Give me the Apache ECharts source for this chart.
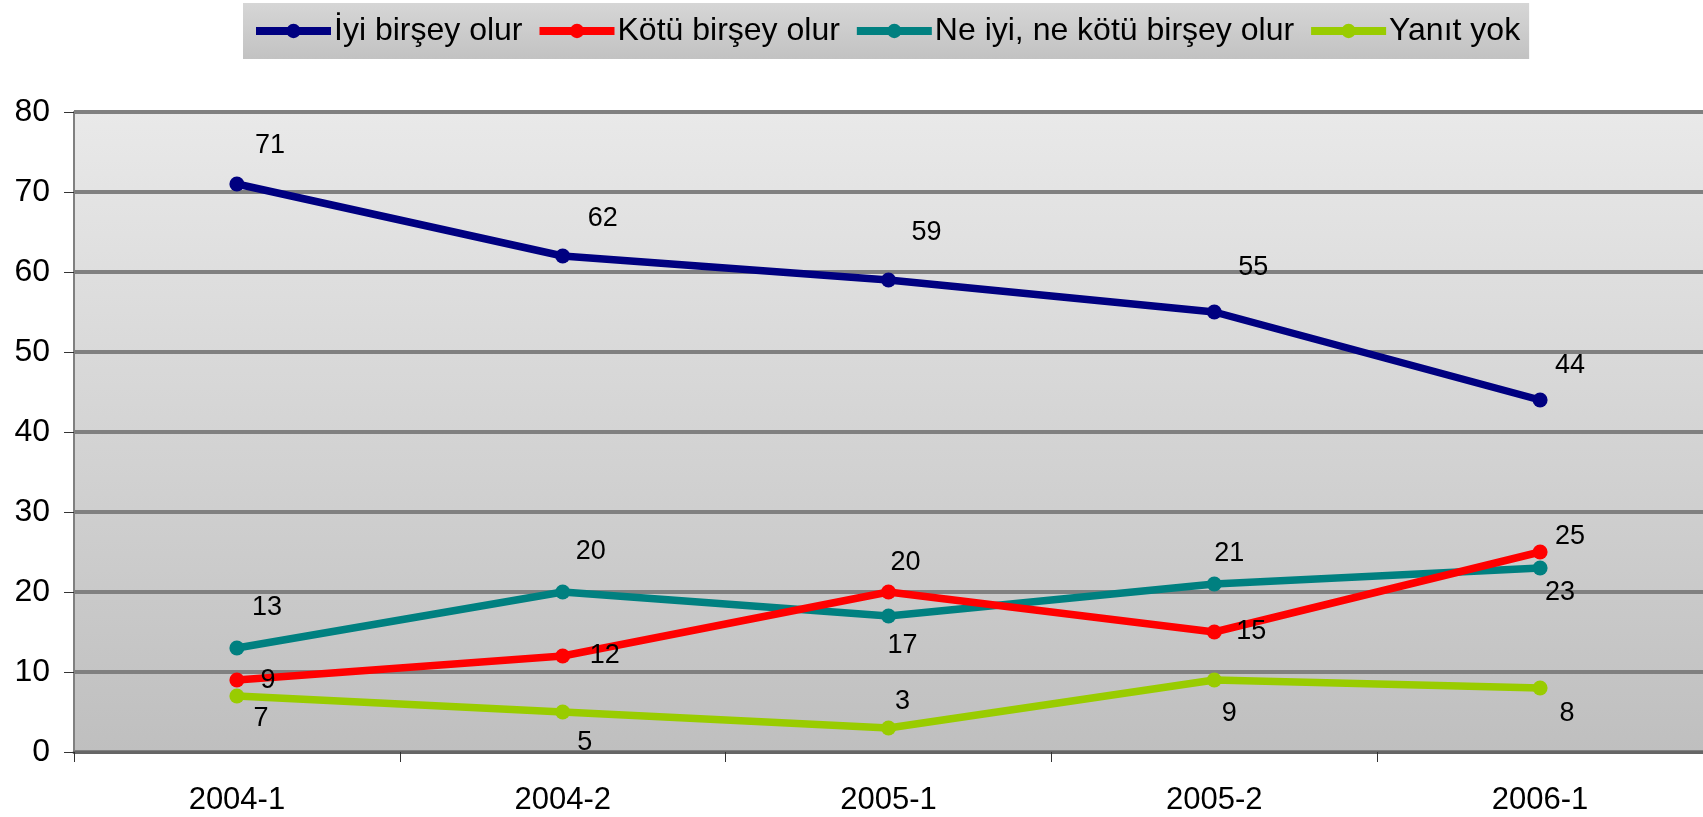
<!DOCTYPE html>
<html>
<head>
<meta charset="utf-8">
<script src="https://cdn.jsdelivr.net/npm/echarts@6/dist/echarts.min.js"></script>
<style>
  html, body { margin: 0; padding: 0; background: #fff; }
  #chart { width: 1703px; height: 817px; }
</style>
</head>
<body>
<div id="chart"></div>
<script>
var categories = ['2004-1', '2004-2', '2005-1', '2005-2', '2006-1'];
var seriesNames = ['İyi birşey olur', 'Kötü birşey olur', 'Ne iyi, ne kötü birşey olur', 'Yanıt yok'];
var iyi = [71, 62, 59, 55, 44];
var kotu = [9, 12, 20, 15, 25];
var neIyiNeKotu = [13, 20, 17, 21, 23];
var yanitYok = [7, 5, 3, 9, 8];

var colors = ['#000080', '#ff0000', '#008080', '#99cc00'];

// where each data label sits relative to its point (px)
var labelOffsets = [
    [[33, -38], [40, -37], [38, -47], [39, -44], [30, -34]],
    [[31, 1], [42, 0], [17, -29], [37, 0], [30, -15]],
    [[30, -40], [28, -40], [14, 30], [15, -30], [20, 25]],
    [[24, 23], [22, 31], [14, -26], [15, 34], [27, 26]]
];

var font = 'Arial, "Liberation Sans", sans-serif';

function makeSeries(idx, values) {
    return {
        name: seriesNames[idx],
        type: 'line',
        data: values.map(function (v, i) {
            return {
                value: v,
                label: { offset: labelOffsets[idx][i] }
            };
        }),
        symbol: 'circle',
        symbolSize: 15,
        lineStyle: { width: 7.5, color: colors[idx] },
        itemStyle: { color: colors[idx] },
        label: {
            show: true,
            position: 'inside',
            color: '#000',
            fontFamily: font,
            fontSize: 27
        },
        z: 10 - idx
    };
}

var chart = echarts.init(document.getElementById('chart'));
chart.setOption({
    animation: false,
    backgroundColor: '#ffffff',
    color: colors,
    legend: {
        left: 243,
        top: 3,
        padding: [9, 9],
        itemWidth: 75,
        itemHeight: 18,
        itemGap: 13,
        lineStyle: { width: 8 },
        backgroundColor: {
            type: 'linear', x: 0, y: 0, x2: 0, y2: 1,
            colorStops: [{ offset: 0, color: '#d6d6d6' }, { offset: 1, color: '#c2c2c2' }]
        },
        textStyle: { fontFamily: font, fontSize: 32, color: '#000', lineHeight: 38, padding: [0, 0, 0, -2] },
        data: seriesNames
    },
    grid: {
        left: 74,
        right: -7,
        top: 112,
        bottom: 65,
        show: true,
        borderWidth: 0,
        backgroundColor: {
            type: 'linear', x: 0, y: 0, x2: 0, y2: 1,
            colorStops: [{ offset: 0, color: '#e9e9e9' }, { offset: 1, color: '#bfbfbf' }]
        }
    },
    xAxis: {
        type: 'category',
        data: categories,
        boundaryGap: true,
        axisLine: { lineStyle: { color: '#666', width: 3 } },
        axisTick: { show: true, length: 10, lineStyle: { color: '#333', width: 1 } },
        axisLabel: { color: '#000', fontFamily: font, fontSize: 31, margin: 33 },
        splitLine: { show: false }
    },
    yAxis: {
        type: 'value',
        min: 0,
        max: 80,
        interval: 10,
        axisLine: { show: true, lineStyle: { color: '#808080', width: 2 } },
        axisTick: { show: true, length: 10, lineStyle: { color: '#333', width: 1 } },
        axisLabel: { color: '#000', fontFamily: font, fontSize: 32, margin: 24 },
        splitLine: { show: true, lineStyle: { color: '#808080', width: 4 } }
    },
    series: [
        makeSeries(0, iyi),
        makeSeries(1, kotu),
        makeSeries(2, neIyiNeKotu),
        makeSeries(3, yanitYok)
    ]
});
</script>
</body>
</html>
